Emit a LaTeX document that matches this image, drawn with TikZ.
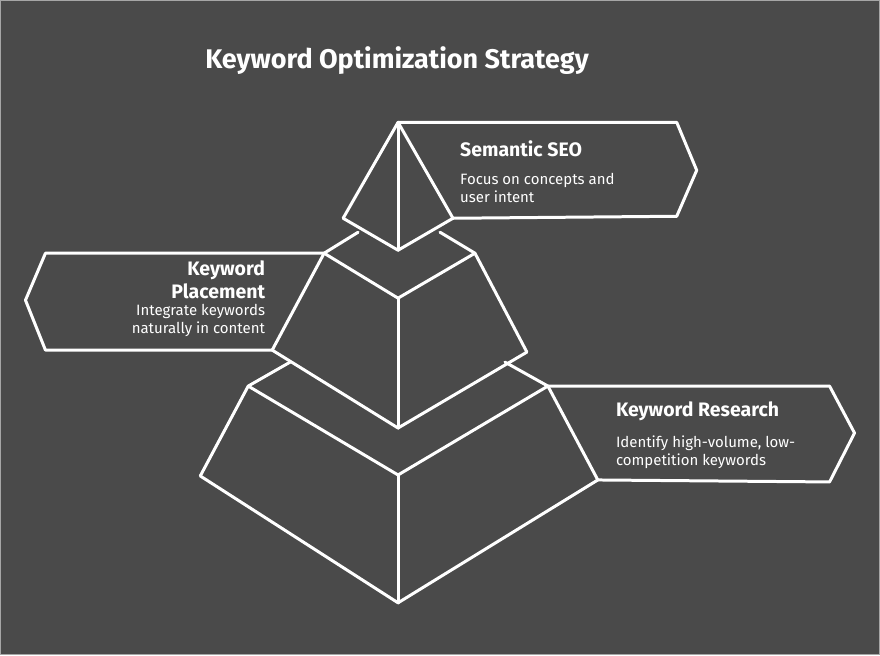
\documentclass[tikz,border=0pt]{standalone}
\usepackage{fontspec}
\setmainfont{Fira Sans}
\begin{document}
\begin{tikzpicture}[x=1pt,y=-1pt,
  ln/.style={draw=white,line width=3pt,line join=round,line cap=round},
  hd/.style={text=white,font=\bfseries\fontsize{19.5}{23}\selectfont,inner sep=0pt},
  bd/.style={text=white,font=\fontsize{15}{17.5}\selectfont,inner sep=0pt,align=left}]
\definecolor{bg}{HTML}{4A4A4A}
\fill[bg,draw=gray!70,line width=1pt] (0,0) rectangle (880,655);
\useasboundingbox (0,0) rectangle (880,655);
% title
\node[text=white,font=\bfseries\fontsize{27}{31}\selectfont] (title) at (397,60) {Keyword Optimization Strategy};
% coordinates
\coordinate (a) at (398,122); \coordinate (tl) at (343,218); \coordinate (tr) at (453,218); \coordinate (tc) at (398,250);
\coordinate (ml) at (324,253); \coordinate (mr) at (475,253); \coordinate (mc) at (398,298);
\coordinate (mbl) at (272,350); \coordinate (mbr) at (527,352); \coordinate (mbc) at (398,428);
\coordinate (mbl2) at (358,232); \coordinate (mbr2) at (440,232);
\coordinate (bl) at (248,386); \coordinate (br) at (548,386); \coordinate (bc) at (398,475);
\coordinate (bbl) at (200,476); \coordinate (bbr) at (598,480); \coordinate (bbc) at (398,603);
\coordinate (bl2) at (290,362); \coordinate (br2) at (505,362);
% callouts
\draw[ln] (a) -- (677,122) -- (697,170) -- (677,216) -- (tr);
\draw[ln] (ml) -- (45,253) -- (25,300) -- (45,350) -- (mbl);
\draw[ln] (br) -- (830,386) -- (855,433) -- (830,482) -- (bbr);
% top
\draw[ln] (tl) -- (a) -- (tr) -- (tc) -- cycle; \draw[ln] (a) -- (tc);
% middle
\draw[ln] (mbl2) -- (ml) -- (mc) -- (mr) -- (mbr2);
\draw[ln] (ml) -- (mbl) -- (mbc) -- (mbr) -- (mr); \draw[ln] (mc) -- (mbc);
% bottom
\draw[ln] (bl2) -- (bl) -- (bc) -- (br) -- (br2);
\draw[ln] (bl) -- (bbl) -- (bbc) -- (bbr) -- (br); \draw[ln] (bc) -- (bbc);
% texts
\node[hd,anchor=west] (h1) at (460,148) {Semantic SEO};
\node[bd,anchor=north west] (b1) at (460,173) {Focus on concepts and\\user intent};
\node[hd,anchor=east,align=right] (h2) at (265,280) {Keyword\\Placement};
\node[bd,anchor=north east,align=right] (b2) at (265,304) {Integrate keywords\\naturally in content};
\node[hd,anchor=west] (h3) at (616,411) {Keyword Research};
\node[bd,anchor=north west] (b3) at (616,436) {Identify high-volume, low-\\competition keywords};
\end{tikzpicture}
\end{document}
